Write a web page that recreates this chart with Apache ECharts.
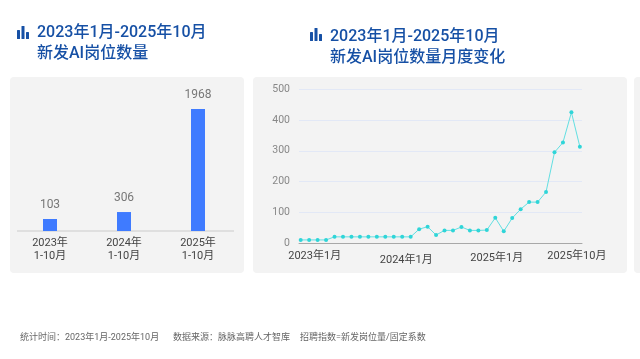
<!DOCTYPE html>
<html><head><meta charset="utf-8">
<style>html,body{margin:0;padding:0;background:#fff}#c{width:640px;height:359px}</style>
<script src="https://cdn.jsdelivr.net/npm/echarts@6/dist/echarts.min.js"></script>
</head><body><div id="c"></div>
<script>
const barCategories = ['2023年\n1-10月','2024年\n1-10月','2025年\n1-10月'];
const barValues = [103,306,1968];
const months = [];
for (let y=2023;y<=2025;y++) for (let m=1;m<=12;m++) if (!(y===2025&&m>10)) months.push(y+'年'+m+'月');
const lineValues = [10,10,10,10,20,20,20,20,20,20,20,20,20,20,45,53,26,41,41,52,41,41,42,82,38,81,110,133,133,166,295,327,425,313];
const lineTickIndex = [0,12,24,33];
const titles = ['2023年1月-2025年10月','新发AI岗位数量','新发AI岗位数量月度变化'];
const footer = ['统计时间：2023年1月-2025年10月','数据来源：脉脉高聘人才智库','招聘指数=新发岗位量/固定系数'];

const F = 'Roboto,"Noto Sans CJK SC","Noto Sans",sans-serif';
const labelStyle = {
  0:{padding:[0,0,0,28]}, 12:{padding:[4,0,0,8]}, 24:{padding:[2,14,0,0]}, 33:{padding:[0,6,0,0]}
};
const rich = {};
lineTickIndex.forEach(i=>{ rich['t'+i]={...labelStyle[i],color:'#444',fontSize:11,fontFamily:F}; });

function panel(x,y,w,h){return {type:'rect',silent:true,z:-10,shape:{x,y,width:w,height:h,r:4},style:{fill:'#f3f3f3'}};}
function icon(x,y){
  return [[0,4,3,9],[4.5,0,3,13],[9,6,3,7]].map(b=>({type:'rect',silent:true,shape:{x:x+b[0],y:y+b[1],width:b[2],height:b[3],r:0.5},style:{fill:'#1650a5'}}));
}
function txt(x,y,t,size,color,weight){return {type:'text',silent:true,x,y,style:{text:t,fontFamily:F,fontSize:size,fill:color,fontWeight:weight||400,textVerticalAlign:'middle'}};}

const chart = echarts.init(document.getElementById('c'),null,{renderer:'canvas'});
chart.setOption({
  animation:false,
  backgroundColor:'#fff',
  graphic:{elements:[
    panel(10,77,234,196),panel(253,77,374,196),panel(634,77,20,196),
    ...icon(17,26),...icon(310,28),
    txt(37,33,titles[0],16,'#1650a5',500),txt(37,54,titles[1],16,'#1650a5',500),
    txt(330,37,titles[0],16,'#1650a5',500),txt(330,58,titles[2],16,'#1650a5',500),
    txt(20,338,footer[0],9,'#666'),txt(173,338,footer[1],9,'#666'),txt(300,338,footer[2],9,'#666'),
    {type:'line',silent:true,shape:{x1:17,y1:231,x2:234,y2:231},style:{stroke:'#d9d9d9',lineWidth:1.5}}
  ]},
  grid:[
    {left:13,width:222,top:90,bottom:359-231,containLabel:false},
    {left:299,width:283,top:89.3,bottom:359-243}
  ],
  xAxis:[
    {type:'category',gridIndex:0,data:barCategories,axisLine:{show:false},axisTick:{show:false},
     axisLabel:{color:'#444',fontSize:11,lineHeight:13,margin:6,fontFamily:F,interval:0}},
    {type:'value',gridIndex:1,min:-0.2,max:33.25,splitLine:{show:false},axisTick:{show:false},
     axisLine:{show:true,lineStyle:{color:'#a8a8a8',width:1}},
     axisLabel:{show:true,customValues:lineTickIndex,hideOverlap:false,margin:8,
       formatter:v=>'{t'+v+'|'+months[v]+'}',rich}}
  ],
  yAxis:[
    {type:'value',gridIndex:0,min:0,max:2275,show:false},
    {type:'value',gridIndex:1,min:0,max:500,interval:100,axisLine:{show:false},axisTick:{show:false},
     splitLine:{lineStyle:{color:'#e2e8f6',width:1}},
     axisLabel:{color:'#888',fontSize:10.5,margin:9,fontFamily:F}}
  ],
  series:[
    {type:'bar',xAxisIndex:0,yAxisIndex:0,data:barValues,barWidth:14,barMinHeight:12,
     itemStyle:{color:'#3f7bff'},
     label:{show:true,position:'top',distance:8,color:'#777',fontSize:12,fontFamily:F}},
    {type:'line',xAxisIndex:1,yAxisIndex:1,data:lineValues.map((v,i)=>[i,v]),
     symbol:'circle',symbolSize:4,showSymbol:true,showAllSymbol:true,
     lineStyle:{color:'#62dfe2',width:1},itemStyle:{color:'#2fd5d8'}}
  ]
});
</script></body></html>
